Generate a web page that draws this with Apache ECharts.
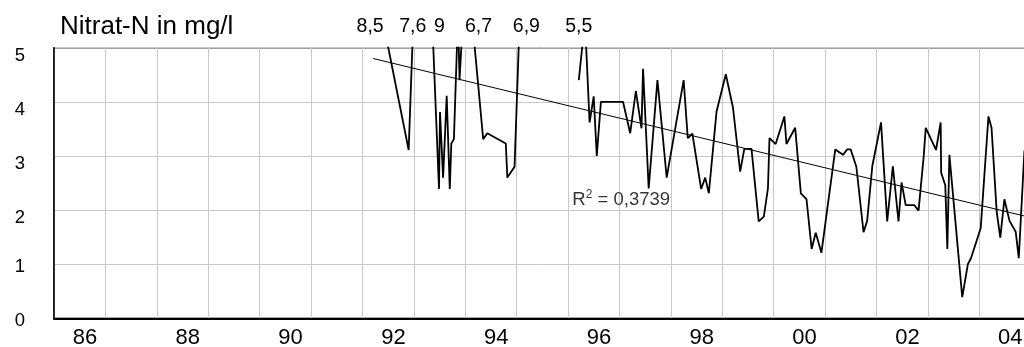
<!DOCTYPE html>
<html><head><meta charset="utf-8">
<script src="https://cdn.jsdelivr.net/npm/echarts@6/dist/echarts.min.js"></script>
<style>html,body{margin:0;padding:0;background:#fff}#c{width:1024px;height:347px}</style>
</head><body><div id="c"></div>
<script>
// Sample dates (decimal years) and Nitrat-N values in mg/l; null = gap in the record
const years = [1991.77, 1992.90, 1993.07, 1993.21, 1993.49, 1993.51, 1993.57, 1993.64, 1993.70, 1993.73,
  1993.78, 1993.86, 1993.89, 1994.02, 1994.35, 1994.43, 1994.79, 1994.82, 1994.96, 1995.11,
  1995.60,
  1996.21, 1996.33, 1996.42, 1996.50, 1996.56, 1996.64, 1997.07, 1997.21, 1997.32, 1997.43,
  1997.46, 1997.57, 1997.74, 1997.92, 1998.25, 1998.33, 1998.42, 1998.59, 1998.67, 1998.74,
  1998.89, 1999.07, 1999.21, 1999.35, 1999.43, 1999.57, 1999.71, 1999.81, 1999.89, 1999.92,
  2000.04, 2000.21, 2000.25, 2000.42, 2000.53, 2000.64, 2000.74, 2000.82, 2000.93, 2001.20,
  2001.35, 2001.43, 2001.50, 2001.61, 2001.75, 2001.82, 2001.92, 2002.09, 2002.21, 2002.32,
  2002.43, 2002.49, 2002.57, 2002.74, 2002.82, 2002.92, 2002.96, 2003.16, 2003.25, 2003.26,
  2003.34, 2003.38, 2003.42, 2003.67, 2003.78, 2003.84, 2004.03, 2004.18, 2004.24, 2004.34,
  2004.41, 2004.49, 2004.59, 2004.71, 2004.77, 2004.88];
const nitrate = [8.5, 3.11, 7.6, 9.0, 2.39, 3.81, 2.60, 4.11, 2.39, 3.23,
  3.31, 5.6, 4.40, 6.7, 3.31, 3.42, 3.23, 2.60, 2.80, 6.9,
  null,
  4.40, 5.5, 3.62, 4.10, 3.00, 4.00, 4.00, 3.42, 4.20, 3.51,
  4.61, 2.40, 4.40, 2.60, 4.40, 3.33, 3.41, 2.39, 2.60, 2.31,
  3.82, 4.51, 3.89, 2.71, 3.13, 3.13, 1.79, 1.88, 2.40, 3.33,
  3.22, 3.73, 3.22, 3.52, 2.31, 2.20, 1.28, 1.58, 1.21, 3.12,
  3.02, 3.12, 3.12, 2.80, 1.59, 1.80, 2.81, 3.62, 1.79, 2.81,
  1.79, 2.51, 2.09, 2.09, 1.99, 2.99, 3.52, 3.11, 3.62, 2.69,
  2.46, 1.28, 3.02, 0.39, 1.00, 1.11, 1.67, 3.73, 3.52, 1.97,
  1.49, 2.20, 1.80, 1.60, 1.11, 3.10];
// Linear trend line endpoints
const trendYears = [1992.21, 2004.88];
const trendValues = [4.80, 1.89];
const rSquared = '0,3739';
// Values above the scale, written at the top
const overflowYears = [1992.15, 1992.98, 1993.50, 1994.26, 1995.19, 1996.21];
const overflowLabels = ['8,5', '7,6', '9', '6,7', '6,9', '5,5'];
const title = 'Nitrat-N in mg/l';

const FONT = "'Liberation Sans', Arial, sans-serif";
const chart = echarts.init(document.getElementById('c'), null, {renderer: 'canvas'});
chart.setOption({
  animation: false,
  backgroundColor: '#fff',
  title: {
    text: title, left: 60, top: 14, padding: 0,
    textStyle: {fontFamily: FONT, fontSize: 26, fontWeight: 'normal', color: '#000'}
  },
  grid: {left: 54, top: 47.7, width: 976.6, height: 270.6, show: true,
    outerBoundsMode: 'none', containLabel: false,
    borderColor: '#444', borderWidth: 1.5, backgroundColor: 'transparent'},
  xAxis: {
    type: 'value', min: 1986, max: 2005, interval: 1,
    axisLine: {lineStyle: {color: '#000', width: 2}},
    axisTick: {show: false},
    splitLine: {show: true, lineStyle: {color: '#c8c8c8', width: 1}},
    axisLabel: {
      fontFamily: FONT, fontSize: 22, color: '#000', margin: 9,
      align: 'center', padding: [0, 0, 0, 62],
      showMaxLabel: false,
      formatter: v => (Math.round(v) % 2 === 0) ? String(Math.round(v)).slice(2) : ''
    }
  },
  yAxis: {
    type: 'value', min: 0, max: 5, interval: 1,
    axisLine: {show: true, lineStyle: {color: '#000', width: 1.5}},
    axisTick: {show: false},
    splitLine: {show: true, lineStyle: {color: '#c8c8c8', width: 1}},
    axisLabel: {
      fontFamily: FONT, fontSize: 18.5, color: '#000', margin: 29,
      formatter: v => v >= 2 ? '{lo|' + v + '}' : '{hi|' + v + '}',
      rich: {
        lo: {fontFamily: FONT, fontSize: 18.5, color: '#000', padding: [16, 0, 0, 0]},
        hi: {fontFamily: FONT, fontSize: 18.5, color: '#000', padding: [5, 0, 0, 0]}
      }
    }
  },
  series: [
    {
      name: 'Nitrat-N', type: 'line', showSymbol: false, connectNulls: false, clip: true,
      lineStyle: {color: '#000', width: 1.8}, z: 3,
      data: years.map((x, i) => [x, nitrate[i]])
    },
    {
      name: 'Trend', type: 'line', showSymbol: false, clip: true,
      lineStyle: {color: '#000', width: 1}, z: 2,
      data: trendYears.map((x, i) => [x, trendValues[i]])
    },
    {
      name: 'overflow', type: 'scatter', symbolSize: 0, clip: false, silent: true,
      itemStyle: {color: '#000'},
      label: {show: true, position: 'inside', offset: [0, -21.5],
        fontFamily: FONT, fontSize: 19.5, color: '#000', textBorderWidth: 0, opacity: 1,
        formatter: p => p.data[2]},
      data: overflowYears.map((x, i) => [x, 5, overflowLabels[i]])
    },
    {
      name: 'r2', type: 'scatter', symbolSize: 0, clip: false, silent: true,
      itemStyle: {color: '#000'},
      label: {show: true, position: 'right', distance: 0, color: '#000', textBorderWidth: 0,
        formatter: '{b|R}{s|2}{b| = ' + rSquared + '}',
        rich: {
          b: {fontFamily: FONT, fontSize: 18.5, color: '#000', lineHeight: 22, textBorderWidth: 0},
          s: {fontFamily: FONT, fontSize: 12, color: '#000', lineHeight: 10, verticalAlign: 'top', textBorderWidth: 0}
        }},
      data: [[1996.085, 2.186]]
    }
  ]
});
</script>
</body></html>
